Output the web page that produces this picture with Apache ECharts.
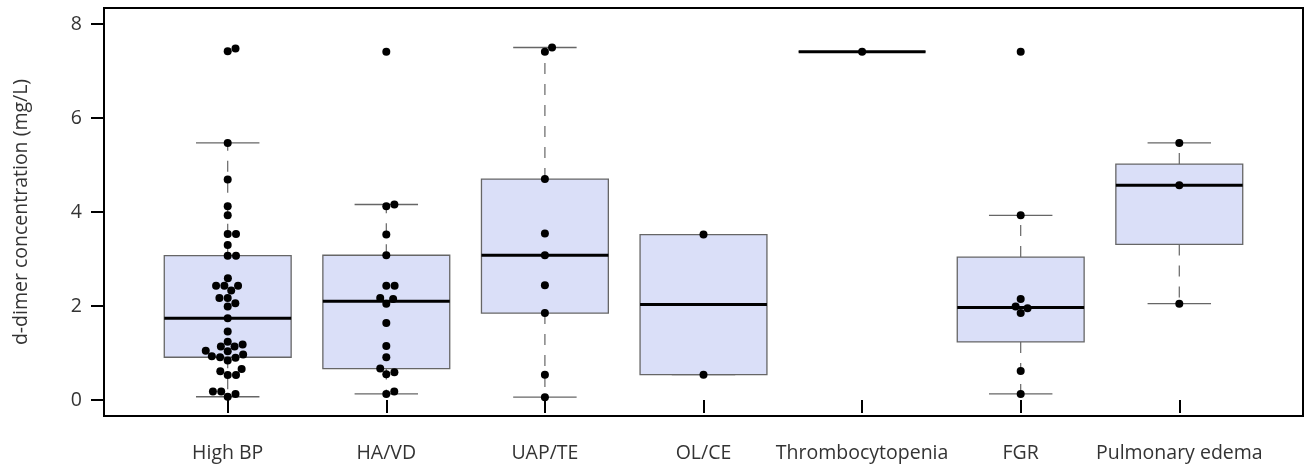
<!DOCTYPE html>
<html><head><meta charset="utf-8">
<script src="https://cdn.jsdelivr.net/npm/echarts@6/dist/echarts.min.js"></script>
<style>html,body{margin:0;padding:0;background:#fff}#c{width:1305px;height:467px}</style>
</head><body><div id="c"></div>
<script>
// ---- data (mg/L) ----
const categories = ['High BP', 'HA/VD', 'UAP/TE', 'OL/CE', 'Thrombocytopenia', 'FGR', 'Pulmonary edema'];
const highBP = [7.48, 7.42, 5.47, 4.69, 4.12, 3.93, 3.53, 3.53, 3.30, 3.07, 3.07, 2.59, 2.43, 2.43, 2.43, 2.33, 2.17, 2.17, 2.06, 1.99, 1.74, 1.46, 1.24, 1.18, 1.14, 1.14, 1.05, 1.04, 0.97, 0.93, 0.91, 0.90, 0.84, 0.66, 0.61, 0.53, 0.53, 0.18, 0.18, 0.13, 0.07];
const haVd = [7.41, 4.16, 4.12, 3.52, 3.08, 2.43, 2.43, 2.17, 2.15, 2.05, 1.64, 1.15, 0.91, 0.67, 0.59, 0.55, 0.18, 0.13];
const uapTe = [7.50, 7.41, 4.70, 3.54, 3.08, 2.44, 1.85, 0.54, 0.06];
const olCe = [3.52, 0.54];
const thrombocytopenia = [7.41];
const fgr = [7.41, 3.93, 2.15, 1.99, 1.95, 1.85, 0.62, 0.13];
const pulmonaryEdema = [5.47, 4.57, 2.05];
const yTicks = [0, 2, 4, 6, 8];
const yName = 'd-dimer concentration (mg/L)';

const groups = [highBP, haVd, uapTe, olCe, thrombocytopenia, fgr, pulmonaryEdema];

// Tukey five-number summary + 1.5*IQR whiskers (as R boxplot)
function fivenum(x) {
  const s = [...x].sort((a, b) => a - b), n = s.length;
  const n4 = Math.floor((n + 3) / 2) / 2;
  const d = [1, n4, (n + 1) / 2, n + 1 - n4, n];
  return d.map(v => 0.5 * (s[Math.floor(v) - 1] + s[Math.ceil(v) - 1]));
}
function boxStats(x) {
  const s = [...x].sort((a, b) => a - b);
  const f = fivenum(s);
  const iqr = f[3] - f[1];
  const lo = s.find(v => v >= f[1] - 1.5 * iqr);
  const hi = [...s].reverse().find(v => v <= f[3] + 1.5 * iqr);
  return [lo, f[1], f[2], f[3], hi];
}
const boxData = groups.map((g, i) => [i + 1, ...boxStats(g)]);

const FONT = '"Open Sans", "Noto Sans", sans-serif';
const chart = echarts.init(document.getElementById('c'), null, {renderer: 'canvas'});

const option = {
  animation: false,
  grid: {left: 104, right: 2, top: 8, bottom: 51, show: true, borderColor: '#000', borderWidth: 2,
         backgroundColor: 'transparent', containLabel: false, outerBoundsMode: 'none'},
  xAxis: {
    type: 'value', min: 0.22, max: 7.78,
    axisLine: {show: false},
    splitLine: {show: false},
    axisTick: {show: true, customValues: categories.map((c, i) => i + 1), length: 13, lineStyle: {color: '#000', width: 2}},
    axisLabel: {customValues: categories.map((c, i) => i + 1), formatter: v => categories[Math.round(v) - 1] || '',
                fontSize: 19.5, fontFamily: FONT, color: '#333', margin: 27, showMinLabel: true, showMaxLabel: true}
  },
  yAxis: {
    type: 'value', min: -0.34, max: 8.34,
    name: yName, nameLocation: 'middle', nameGap: 73,
    nameTextStyle: {fontSize: 19.5, fontFamily: FONT, color: '#333'},
    axisLine: {show: false},
    splitLine: {show: false},
    axisTick: {show: true, customValues: yTicks, length: 13, lineStyle: {color: '#000', width: 2}},
    axisLabel: {customValues: yTicks, fontSize: 19.5, fontFamily: FONT, color: '#333', margin: 22}
  },
  series: [
    {
      type: 'custom',
      data: boxData,
      z: 2,
      renderItem: function (params, api) {
        const x = api.value(0), lo = api.value(1), q1 = api.value(2), md = api.value(3), q3 = api.value(4), hi = api.value(5);
        const bw = api.size([0.8, 0])[0];
        const cx = api.coord([x, md])[0];
        const yLo = api.coord([x, lo])[1], yQ1 = api.coord([x, q1])[1], yMd = api.coord([x, md])[1];
        const yQ3 = api.coord([x, q3])[1], yHi = api.coord([x, hi])[1];
        const wStyle = {stroke: '#666', lineWidth: 1.2, lineDash: [11, 10]};
        const cStyle = {stroke: '#666', lineWidth: 1.3};
        return {
          type: 'group',
          children: [
            {type: 'line', shape: {x1: cx, y1: yQ3, x2: cx, y2: yHi}, style: wStyle},
            {type: 'line', shape: {x1: cx, y1: yQ1, x2: cx, y2: yLo}, style: wStyle},
            {type: 'line', shape: {x1: cx - bw / 4, y1: yHi, x2: cx + bw / 4, y2: yHi}, style: cStyle},
            {type: 'line', shape: {x1: cx - bw / 4, y1: yLo, x2: cx + bw / 4, y2: yLo}, style: cStyle},
            {type: 'rect', shape: {x: cx - bw / 2, y: yQ3, width: bw, height: yQ1 - yQ3},
             style: {fill: '#dadff8', stroke: '#666', lineWidth: 1.3}},
            {type: 'line', shape: {x1: cx - bw / 2, y1: yMd, x2: cx + bw / 2, y2: yMd}, style: {stroke: '#000', lineWidth: 3}}
          ]
        };
      }
    },
    {
      type: 'scatter', z: 5, symbol: 'circle', symbolSize: 8,
      itemStyle: {color: '#000', opacity: 1},
      data: []
    }
  ]
};
chart.setOption(option);

// beeswarm ("swarm" placement) done in pixel space through the chart's own scales
const D = 8.3;
const pts = [];
groups.forEach((vals, gi) => {
  const xc = gi + 1;
  const cxPix = chart.convertToPixel({gridIndex: 0}, [xc, 0])[0];
  const order = vals.map(v => ({v, py: chart.convertToPixel({gridIndex: 0}, [xc, v])[1]})).sort((a, b) => a.v - b.v);
  const placed = [];
  order.forEach(p => {
    const cands = [0];
    placed.forEach(q => {
      const dy = p.py - q.py;
      if (Math.abs(dy) < D) {
        const dx = Math.sqrt(D * D - dy * dy);
        cands.push(q.dx + dx, q.dx - dx);
      }
    });
    cands.sort((a, b) => Math.abs(a) - Math.abs(b));
    const ok = c => placed.every(q => (c - q.dx) * (c - q.dx) + (p.py - q.py) * (p.py - q.py) >= D * D - 1e-6);
    const dx = cands.find(ok);
    placed.push({dx, py: p.py});
    pts.push([chart.convertFromPixel({gridIndex: 0}, [cxPix + dx, p.py])[0], p.v]);
  });
});
chart.setOption({series: [{}, {data: pts}]});
</script></body></html>
